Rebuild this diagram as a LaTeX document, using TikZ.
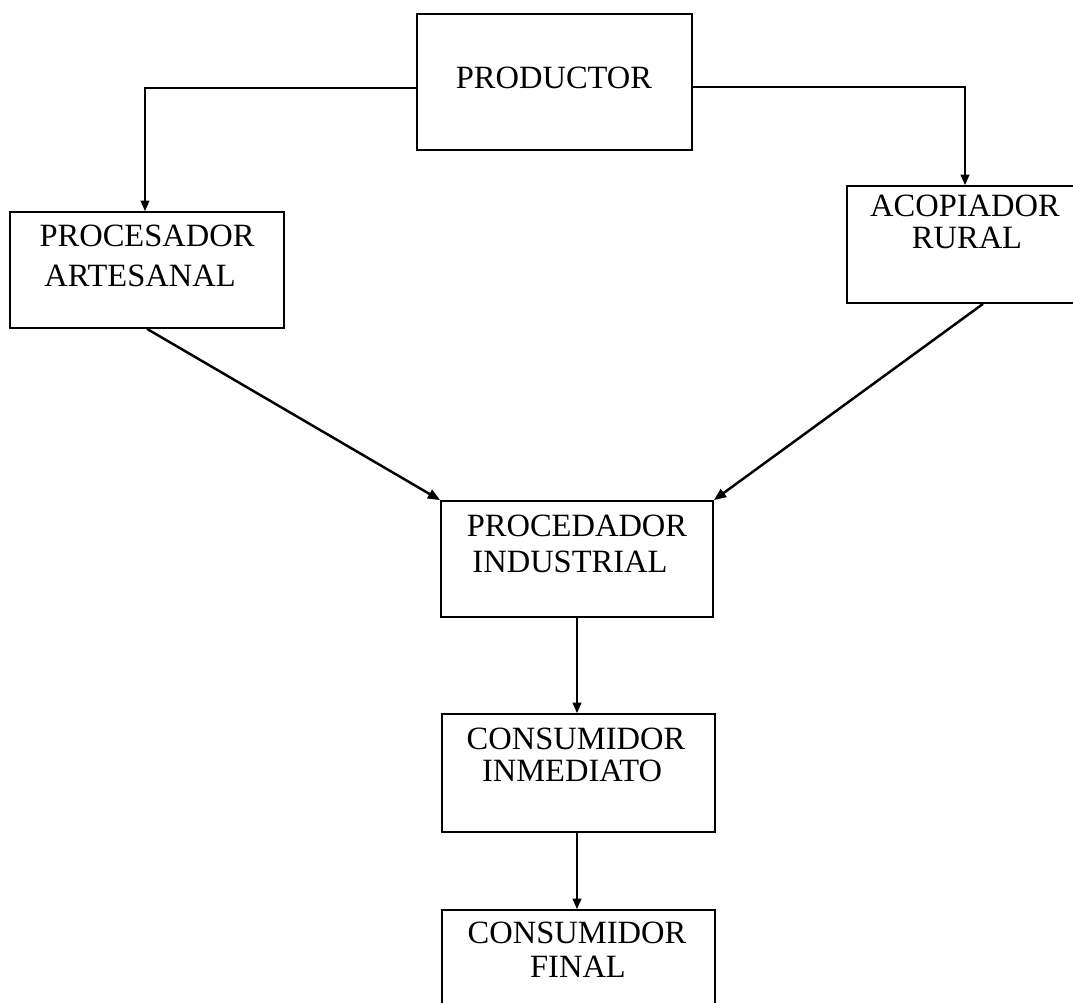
\documentclass[tikz,border=0pt]{standalone}
\usepackage{fontspec}
\setmainfont{Liberation Serif}
\usetikzlibrary{arrows.meta}
\tikzset{
  boxnode/.style={draw, line width=1pt, rectangle, inner sep=0pt},
  lbl/.style={font=\fontsize{18.5}{22}\selectfont, inner sep=0pt, anchor=base},
  arr/.style={line width=1pt, -{Triangle[length=6pt,width=5pt]}},
  diag/.style={line width=1.4pt, -{Triangle[length=7pt,width=5.5pt]}}
}
\begin{document}
\begin{tikzpicture}[x=0.02cm,y=-0.02cm]
\useasboundingbox (0,0) rectangle (1073,1002);
\clip (0,0) rectangle (1073,1002);
\fill[white] (0,0) rectangle (1073,1002);
% boxes
\node[boxnode, minimum width=5.5cm, minimum height=2.72cm] (prod) at (554.5,82) {};
\node[boxnode, minimum width=5.48cm, minimum height=2.32cm] (art) at (147,270) {};
\node[boxnode, minimum width=4.66cm, minimum height=2.34cm] (aco) at (963.5,244.5) {};
\node[boxnode, minimum width=5.44cm, minimum height=2.32cm] (ind) at (577,559) {};
\node[boxnode, minimum width=5.46cm, minimum height=2.36cm] (inm) at (578.5,773) {};
\node[boxnode, minimum width=5.46cm, minimum height=2.0cm] (fin) at (578.5,960) {};
% texts
\node[lbl] (t1) at (554,88.5) {PRODUCTOR};
\node[lbl] (t2a) at (147,246) {PROCESADOR};
\node[lbl] (t2b) at (140,286) {ARTESANAL};
\node[lbl] (t3a) at (965,216) {ACOPIADOR};
\node[lbl] (t3b) at (967,248) {RURAL};
\node[lbl] (t4a) at (577,536) {PROCEDADOR};
\node[lbl] (t4b) at (570,572) {INDUSTRIAL};
\node[lbl] (t5a) at (576,749) {CONSUMIDOR};
\node[lbl] (t5b) at (572,781) {INMEDIATO};
\node[lbl] (t6a) at (577,943) {CONSUMIDOR};
\node[lbl] (t6b) at (578,977) {FINAL};
% connectors
\draw[arr] ([yshift=-0.12cm]prod.west) -| ([xshift=-0.04cm]art.north);
\draw[arr] ([yshift=-0.1cm]prod.east) -| ([xshift=0.03cm]aco.north);
\draw[diag] (art.south) -- (ind.north west);
\draw[diag] ([xshift=0.39cm]aco.south) -- (ind.north east);
\draw[arr] (ind.south) -- (ind.south |- inm.north);
\draw[arr] (ind.south |- inm.south) -- (ind.south |- fin.north);
\end{tikzpicture}
\end{document}
